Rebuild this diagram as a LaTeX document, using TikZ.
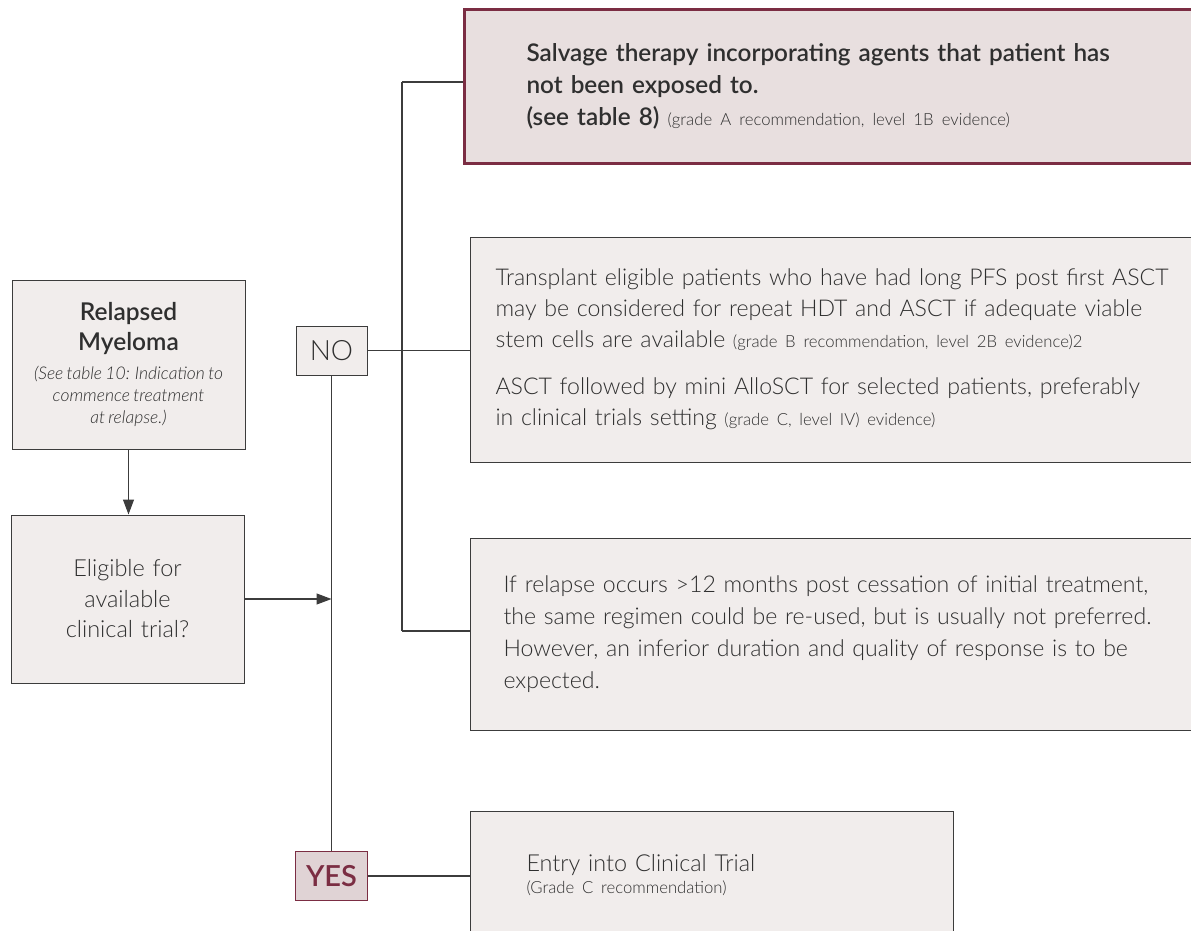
\documentclass[tikz,border=0pt]{standalone}
\usepackage{fontspec}
\setmainfont{Lato Light}[WordSpace=0.75, BoldFont=Lato Semibold, ItalicFont=Lato Light Italic]
\usetikzlibrary{arrows.meta}
\definecolor{boxfill}{HTML}{F1EDEC}
\definecolor{salfill}{HTML}{E8DFDF}
\definecolor{yesfill}{HTML}{E0D3D5}
\definecolor{maroon}{HTML}{7B2D43}
\definecolor{txt}{HTML}{2F2F2F}
\definecolor{edge}{HTML}{3C3C3C}
\newcommand\smalltxt{\fontsize{16.7}{20}\selectfont}
\tikzset{
  graybox/.style={draw=edge, fill=boxfill, line width=1pt, rectangle, inner ysep=0pt, text=txt},
  rightbox/.style={graybox, anchor=west, align=left},
  conn/.style={draw=edge, line width=1.1pt},
  arr/.style={conn, -{Triangle[length=15pt,width=11pt]}},
}
\begin{document}
\begin{tikzpicture}[x=1pt,y=-1pt]
\useasboundingbox (0,0) rectangle (1191,931);
% left column
\node[graybox, minimum width=233pt, minimum height=169pt, align=center, inner xsep=0pt, text width=233pt] (relapsed) at (128.5,364.5)
  {\fontsize{24.5}{30}\selectfont\bfseries Relapsed\\Myeloma\par\vspace{7pt}
   \fontsize{17.5}{22}\selectfont\mdseries\itshape (See table 10: Indication to\\commence treatment\\at relapse.)\par};
\node[graybox, minimum width=233pt, minimum height=168pt, align=center, inner xsep=0pt, text width=233pt,
  font=\fontsize{23.5}{30.5}\selectfont] (eligible) at (127.5,599)
  {Eligible for\\available\\clinical trial?};
% decision boxes
\node[graybox, minimum width=71pt, minimum height=49pt, inner sep=0pt,
  font=\fontsize{28}{30}\selectfont] (no) at (331.5,350.5) {NO};
\node[draw=maroon, fill=yesfill, line width=1.6pt, minimum width=72pt, minimum height=49pt, inner sep=0pt,
  text=maroon, font=\fontsize{29}{30}\selectfont\bfseries] (yes) at (331.5,876) {YES};
% right boxes
\node[rightbox, draw=maroon, fill=salfill, line width=3pt, inner xsep=62pt, text width=640pt, minimum height=153pt,
  font=\fontsize{24.3}{32}\selectfont\bfseries] (salvage) at (463,86.5)
  {Salvage therapy incorporating agents that patient has\\
   not been exposed to.\\
   (see table 8) {\mdseries\smalltxt (grade A recommendation, level 1B evidence)}};
\node[rightbox, inner xsep=25pt, text width=720pt, minimum height=225pt,
  font=\fontsize{23.1}{31}\selectfont] (transplant) at (470,349.5)
  {Transplant eligible patients who have had long PFS post first ASCT\\
   may be considered for repeat HDT and ASCT if adequate viable\\
   stem cells are available {\smalltxt (grade B recommendation, level 2B evidence)2}\\[16pt]
   ASCT followed by mini AlloSCT for selected patients, preferably\\
   in clinical trials setting {\smalltxt (grade C, level IV) evidence)}};
\node[rightbox, inner xsep=33pt, text width=700pt, minimum height=192pt,
  font=\fontsize{23.1}{32}\selectfont] (relapse) at (470,634)
  {If relapse occurs >12 months post cessation of initial treatment,\\
   the same regimen could be re-used, but is usually not preferred.\\
   However, an inferior duration and quality of response is to be\\
   expected.};
\node[rightbox, inner xsep=56pt, text width=371pt, minimum height=129pt,
  font=\fontsize{23.4}{25}\selectfont] (entry) at (470,875.5)
  {Entry into Clinical Trial\\[-3pt]\smalltxt (Grade C recommendation)};
% connectors
\coordinate (trunk) at (no.south |- eligible.east);
\coordinate (bt) at (402,82);
\coordinate (bb) at (402,631);
\draw[arr] (relapsed.south) -- (relapsed.south |- eligible.north);
\draw[arr] (eligible.east) -- (trunk);
\draw[conn] (no.south) -- (yes.north);
\draw[conn] (no.east) -- (no.east -| transplant.west);
\draw[conn] (bt) -- (bb);
\draw[conn] (bt) -- (bt -| salvage.west);
\draw[conn] (bb) -- (bb -| relapse.west);
\draw[conn, line width=1.6pt] (yes.east) -- (yes.east -| entry.west);
\end{tikzpicture}
\end{document}
